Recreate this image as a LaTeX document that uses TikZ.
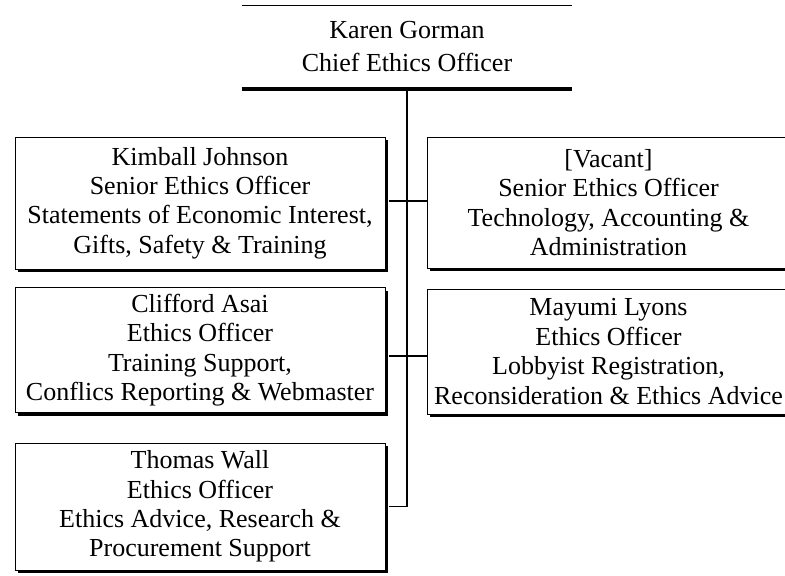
\documentclass[tikz,border=0pt]{standalone}
\usepackage{fontspec}
\setmainfont{Liberation Serif}
\usetikzlibrary{shadows}
\newcommand{\boxfont}{\fontsize{19.5}{22.1}\selectfont}
\newcommand{\topfont}{\fontsize{19.5}{24.8}\selectfont}
\begin{document}
\begin{tikzpicture}[x=0.75pt,y=-0.75pt,
  box/.style={draw, line width=0.75pt, fill=white, align=center, inner sep=0pt,
    font=\boxfont,
    drop shadow={shadow xshift=2.4pt, shadow yshift=-2.4pt, opacity=1, fill=black}},
  conn/.style={draw, line width=1.2pt, line join=miter}]
\useasboundingbox (0,0) rectangle (785,575);
\clip (0,0) rectangle (785,575);

\node[align=center, inner sep=0pt, font=\topfont, minimum width=247.5pt, minimum height=60.75pt] (top) at (407,46.5)
  {Karen Gorman\\Chief Ethics Officer};
\draw[line width=0.75pt] (top.north west) -- (top.north east);
\draw[line width=3pt] ([yshift=-1.1pt]top.south west) -- ([yshift=-1.1pt]top.south east);

\node[box, minimum width=277.5pt, minimum height=99pt] (kimball) at (200,203)
  {Kimball Johnson\\Senior Ethics Officer\\Statements of Economic Interest,\\Gifts, Safety \& Training};
\node[box, minimum width=277.5pt, minimum height=93.75pt] (clifford) at (200,350)
  {Clifford Asai\\Ethics Officer\\Training Support,\\Conflics Reporting \& Webmaster};
\node[box, minimum width=277.5pt, minimum height=95.25pt] (thomas) at (200,506.5)
  {Thomas Wall\\Ethics Officer\\Ethics Advice, Research \&\\Procurement Support};
\node[box, minimum width=272.25pt, minimum height=98.25pt] (vacant) at (608.5,202.5)
  {[Vacant]\\Senior Ethics Officer\\Technology, Accounting \&\\Administration};
\node[box, minimum width=272.25pt, minimum height=93.75pt] (mayumi) at (608.5,351.5)
  {Mayumi Lyons\\Ethics Officer\\Lobbyist Registration,\\Reconsideration \& Ethics Advice};

\draw[conn] ([yshift=-2.3pt]top.south) -- (top.south |- thomas.east) -- ([xshift=2.4pt]thomas.east);
\draw[conn] ([xshift=2.4pt, yshift=1.5pt]kimball.east) -- ([yshift=1.5pt]kimball.east -| vacant.west);
\draw[conn] ([xshift=2.4pt, yshift=-4.5pt]clifford.east) -- ([yshift=-4.5pt]clifford.east -| mayumi.west);
\end{tikzpicture}
\end{document}
